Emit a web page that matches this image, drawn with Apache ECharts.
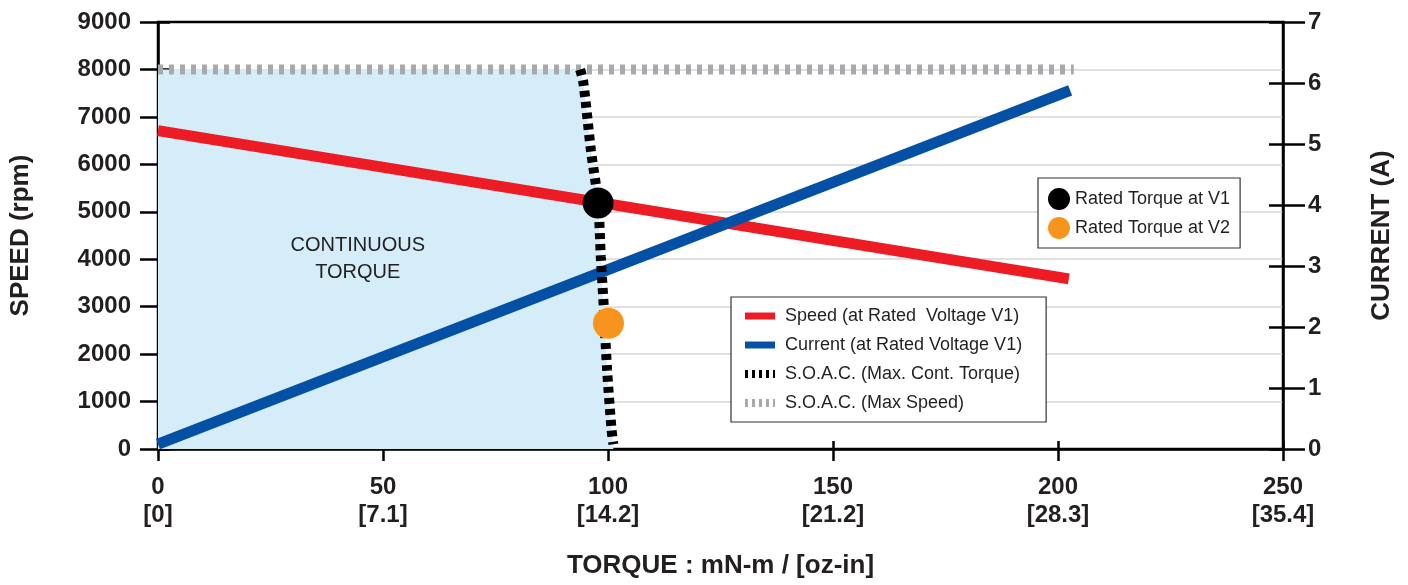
<!DOCTYPE html>
<html><head><meta charset="utf-8">
<script src="https://cdn.jsdelivr.net/npm/echarts@6/dist/echarts.min.js"></script>
<style>html,body{margin:0;padding:0;background:#fff}#c{width:1408px;height:585px}</style>
</head><body><div id="c"></div>
<script>
// ---- data ----
const xTicks = [0, 50, 100, 150, 200, 250];
const ozIn = ['0', '7.1', '14.2', '21.2', '28.3', '35.4'];
const speedV1 = [[0, 6710], [202.4, 3585]];
const currentV1 = [[0, 0.08], [202.7, 5.88]];
const soacTorque = [[93.8, 8000], [94.5, 7740], [96.2, 6300], [97.8, 5190], [98.4, 4050], [99.1, 2930], [99.8, 1670], [100.8, 400], [101.2, 100]];
const soacSpeed = [[0, 8000], [203.5, 8000]];
const ratedV1 = [[97.8, 5185]];
const ratedV2 = [[100.1, 2650]];
const continuousRegion = [[0, 8000]].concat(soacTorque, [[101.2, 0]]);
const names = {
  speed: 'Speed (at Rated  Voltage V1)',
  current: 'Current (at Rated Voltage V1)',
  soacT: 'S.O.A.C. (Max. Cont. Torque)',
  soacS: 'S.O.A.C. (Max Speed)',
  v1: 'Rated Torque at V1',
  v2: 'Rated Torque at V2'
};

const F = "'Liberation Sans', Arial, sans-serif";
const TXT = '#231f20';
const axisLbl = { fontFamily: F, fontSize: 24, fontWeight: 'bold', color: TXT };
const nameStyle = { fontFamily: F, fontSize: 26, fontWeight: 'bold', color: TXT };
const lineBlack = { color: '#000', width: 2.5 };
const noSym = { opacity: 0, borderWidth: 0 };

const chart = echarts.init(document.getElementById('c'));
chart.setOption({
  animation: false,
  backgroundColor: '#fff',
  grid: { left: 158, right: 125, top: 22, bottom: 136, show: true, borderColor: '#000', borderWidth: 2.5 },
  legend: [
    {
      orient: 'vertical', left: 731, top: 297, itemWidth: 30, itemHeight: 14, itemGap: 11,
      padding: [10, 24, 10, 10], borderColor: '#333', borderWidth: 1.2, backgroundColor: '#fff',
      textStyle: { fontFamily: F, fontSize: 18, color: TXT },
      formatter: n => ' ' + n,
      data: [
        { name: names.speed, itemStyle: noSym, lineStyle: { width: 7, type: 'solid', color: '#ed1c24' } },
        { name: names.current, itemStyle: noSym, lineStyle: { width: 7, type: 'solid', color: '#0450a4' } },
        { name: names.soacT, itemStyle: noSym, lineStyle: { width: 8, type: [3, 4], color: '#000' } },
        { name: names.soacS, itemStyle: noSym, lineStyle: { width: 8, type: [3, 4], color: '#a7a9ac' } }
      ]
    },
    {
      orient: 'vertical', left: 1038, top: 178, itemWidth: 22, itemHeight: 22, itemGap: 7,
      padding: [10, 10, 9, 10], borderColor: '#333', borderWidth: 1.2, backgroundColor: '#fff',
      icon: 'circle',
      textStyle: { fontFamily: F, fontSize: 18, color: TXT },
      data: [
        { name: names.v1, itemStyle: { color: '#000', opacity: 1 } },
        { name: names.v2, itemStyle: { color: '#f7941d', opacity: 1 } }
      ]
    }
  ],
  xAxis: [
    {
      type: 'value', min: 0, max: 250, interval: 50, position: 'bottom',
      axisLine: { onZero: false, lineStyle: lineBlack }, axisTick: { show: false }, splitLine: { show: false },
      axisLabel: Object.assign({ margin: 24, lineHeight: 28, formatter: v => v + '\n[' + ozIn[xTicks.indexOf(v)] + ']' }, axisLbl),
      name: 'TORQUE : mN-m / [oz-in]', nameLocation: 'middle', nameGap: 104, nameTextStyle: nameStyle
    },
    {
      type: 'value', min: 0, max: 250, interval: 50, position: 'bottom', offset: -8,
      axisLine: { show: false, onZero: false }, axisTick: { show: true, length: 20, lineStyle: lineBlack },
      axisLabel: { show: false }, splitLine: { show: false }
    }
  ],
  yAxis: [
    {
      type: 'value', min: 0, max: 9000, interval: 1000, position: 'left',
      axisLine: { show: true, onZero: false, lineStyle: lineBlack }, axisTick: { show: false },
      splitLine: { show: true, showMaxLine: false, showMinLine: false, lineStyle: { color: '#d6d6d6', width: 1.5 } },
      axisLabel: Object.assign({ margin: 27, formatter: v => String(v) }, axisLbl),
      name: 'SPEED (rpm)', nameLocation: 'middle', nameRotate: 90, nameGap: 124, nameTextStyle: nameStyle
    },
    {
      type: 'value', min: 0, max: 9000, interval: 1000, position: 'left', offset: -12,
      axisLine: { show: false, onZero: false }, axisTick: { show: true, length: 30, lineStyle: lineBlack },
      axisLabel: { show: false }, splitLine: { show: false }
    },
    {
      type: 'value', min: 0, max: 7, interval: 1, position: 'right',
      axisLine: { show: true, onZero: false, lineStyle: lineBlack }, axisTick: { show: false },
      splitLine: { show: false },
      axisLabel: Object.assign({ margin: 25, formatter: v => String(v) }, axisLbl),
      name: 'CURRENT (A)', nameLocation: 'middle', nameRotate: 90, nameGap: 86, nameTextStyle: nameStyle
    },
    {
      type: 'value', min: 0, max: 7, interval: 1, position: 'right', offset: -14,
      axisLine: { show: false, onZero: false }, axisTick: { show: true, length: 36, lineStyle: lineBlack },
      axisLabel: { show: false }, splitLine: { show: false }
    }
  ],
  series: [
    {
      name: 'CONTINUOUS TORQUE', type: 'line', data: continuousRegion, yAxisIndex: 0, symbol: 'none', silent: true, z: 1,
      lineStyle: { width: 0 }, areaStyle: { color: '#d4edf9', opacity: 1 },
      markPoint: {
        symbol: 'circle', symbolSize: 0, silent: true,
        data: [{ coord: [44.4, 4000] }],
        label: { show: true, position: 'inside', formatter: 'CONTINUOUS\nTORQUE', fontFamily: F, fontSize: 20, lineHeight: 27, color: TXT }
      }
    },
    { name: names.soacS, type: 'line', data: soacSpeed, yAxisIndex: 0, symbol: 'none', z: 2,
      lineStyle: { color: '#a7a9ac', width: 10, type: [5, 6] } },
    { name: names.speed, type: 'line', data: speedV1, yAxisIndex: 0, symbol: 'none', z: 3,
      lineStyle: { color: '#ed1c24', width: 11, cap: 'butt' } },
    { name: names.current, type: 'line', data: currentV1, yAxisIndex: 2, symbol: 'none', z: 3,
      lineStyle: { color: '#0450a4', width: 11, cap: 'butt' } },
    { name: names.soacT, type: 'line', data: soacTorque, yAxisIndex: 0, symbol: 'none', z: 4, smooth: 0.3,
      lineStyle: { color: '#000', width: 10, type: [6, 5] } },
    { name: names.v1, type: 'scatter', data: ratedV1, yAxisIndex: 0, symbol: 'circle', symbolSize: 31, z: 5,
      itemStyle: { color: '#000', opacity: 1 } },
    { name: names.v2, type: 'scatter', data: ratedV2, yAxisIndex: 0, symbol: 'circle', symbolSize: 31, z: 5,
      itemStyle: { color: '#f7941d', opacity: 1 } }
  ]
});
</script></body></html>
